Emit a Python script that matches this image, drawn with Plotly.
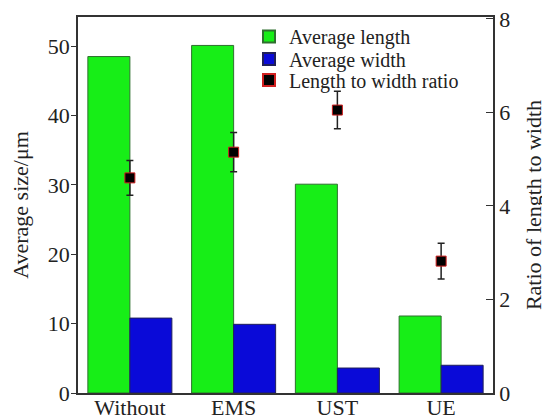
import plotly.graph_objects as go

categories = ["Without", "EMS", "UST", "UE"]
avg_length = [48.5, 50.1, 30.1, 11.1]
avg_width = [10.8, 9.9, 3.6, 4.0]
ratio = [4.6, 5.15, 6.05, 2.82]
ratio_err = [0.37, 0.42, 0.40, 0.38]

FONT = "Liberation Serif"
# page body has an 8px margin; figure is sized so it fits the 550x417 window
W, H = 542, 409
ML, MT, PH, PW = 70, 9, 376, 415

fig = go.Figure()
fig.add_trace(go.Bar(
    x=categories, y=avg_length, name="Average length",
    marker=dict(color="#17ee17", line=dict(color="#2f6f2f", width=1)),
    offsetgroup="a", yaxis="y", legend="legend",
))
fig.add_trace(go.Bar(
    x=categories, y=avg_width, name="Average width",
    marker=dict(color="#0a0ad8", line=dict(color="#20205a", width=1)),
    offsetgroup="b", yaxis="y", legend="legend2",
))
fig.add_trace(go.Scatter(
    x=categories, y=ratio, name="Length to width ratio", mode="markers",
    marker=dict(symbol="square", size=10, color="black",
                line=dict(color="#d02020", width=1)),
    error_y=dict(type="data", array=ratio_err, color="#222222", thickness=1.5, width=3.5),
    yaxis="y2", legend="legend3",
))

def leg(y, anchor):
    return dict(x=(241 - ML) / PW, y=y, xanchor="left", yanchor=anchor,
                bgcolor="rgba(0,0,0,0)", font=dict(family=FONT, size=20),
                itemsizing="constant", borderwidth=0)

def px_y(fy):
    return 1 - (fy - MT) / PH

fig.update_layout(
    width=W, height=H,
    margin=dict(l=ML, r=W - ML - PW, t=MT, b=H - MT - PH),
    paper_bgcolor="white", plot_bgcolor="white",
    font=dict(family=FONT, size=20, color="#222222"),
    barmode="group", bargap=0.19, bargroupgap=0,
    showlegend=True,
    legend=leg(1.0, "top"),
    legend2=leg(px_y(51), "middle"),
    legend3=leg(px_y(72), "middle"),
    xaxis=dict(showline=True, linecolor="#333333", linewidth=1.5, mirror=True,
               ticks="", showgrid=False, tickfont=dict(size=22), automargin=False,
               ticklabelstandoff=-6, ticklabeloverflow="allow"),
    yaxis=dict(range=[0, 54.2], tickvals=[0, 10, 20, 30, 40, 50],
               showline=True, linecolor="#333333", linewidth=1.5,
               ticks="outside", ticklen=5, tickcolor="#333333",
               showgrid=False, zeroline=False, tickfont=dict(size=22), automargin=False,
               ticklabelstandoff=-3, ticklabeloverflow="allow",
               title=dict(text="Average size/μm", font=dict(size=22), standoff=18)),
    yaxis2=dict(range=[0, 8.04], tickvals=[0, 2, 4, 6, 8], overlaying="y", side="right",
                showline=True, linecolor="#333333", linewidth=1.5,
                ticks="inside", ticklen=7, tickcolor="#333333",
                showgrid=False, zeroline=False, tickfont=dict(size=22), automargin=False,
                ticklabeloverflow="allow",
                title=dict(text="Ratio of length to width", font=dict(size=22), standoff=16)),
)

fig.write_html("out.html")
